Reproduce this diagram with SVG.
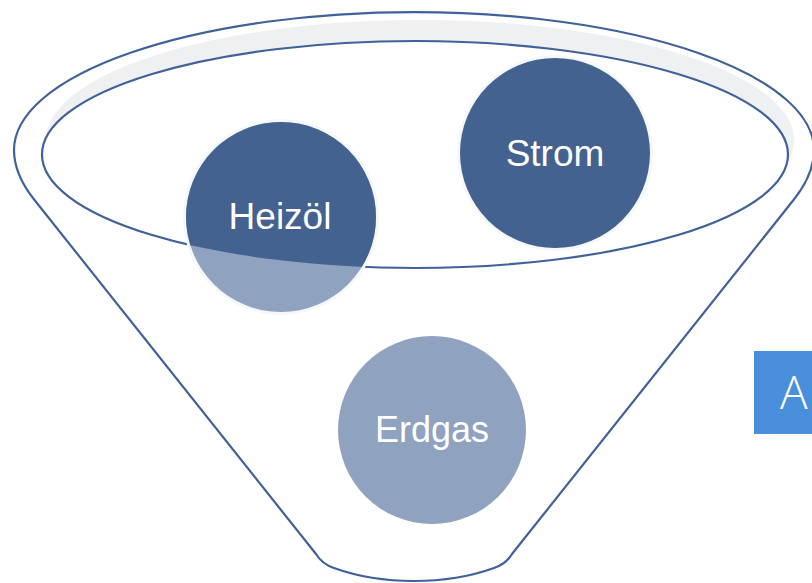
<svg xmlns="http://www.w3.org/2000/svg" width="812" height="583" viewBox="0 0 812 583">
<style>
.line{fill:none;stroke:#41619a;stroke-width:2.2}
.dark{fill:#44628f}
.light{fill:#8fa2c0}
.halo{fill:none;stroke:#f6f7f8;stroke-width:3}
.lbl{font-family:"Liberation Sans",Arial,sans-serif;fill:#ffffff;text-anchor:middle}
</style>
<defs>
<clipPath id="innerClip"><ellipse cx="415" cy="154.5" rx="373" ry="113.5"/></clipPath>
</defs>
<rect width="812" height="583" fill="#ffffff"/>
<g id="funnel">
<ellipse cx="420" cy="140" rx="374" ry="120" fill="#eff0f2"/>
<path class="line" d="M14,150 A400,138 0 0 1 814,150 C814,168 805.5,185 793.5,200 L512,554 Q506,564 494,568 Q458,581 414,581 Q370,581 334,568 Q322,564 316,554 L34.5,200 C22.5,185 14,168 14,150 Z"/>
<ellipse cx="415" cy="154.5" rx="373" ry="113.5" fill="#ffffff"/>
<ellipse class="line" cx="415" cy="154.5" rx="373" ry="113.5"/>
</g>
<g id="heizoel">
<circle class="halo" cx="281" cy="217" r="96.5"/>
<circle class="light" cx="281" cy="217" r="95"/>
<circle class="dark" cx="281" cy="217" r="95" clip-path="url(#innerClip)"/>
<text class="lbl" x="280" y="229" font-size="37">Heizöl</text>
</g>
<g id="strom">
<circle class="halo" cx="555" cy="153" r="96.5"/>
<circle class="dark" cx="555" cy="153" r="95"/>
<text class="lbl" x="555" y="166" font-size="37">Strom</text>
</g>
<g id="erdgas">
<circle class="light" cx="432" cy="430" r="94"/>
<text class="lbl" x="432" y="442" font-size="36">Erdgas</text>
</g>
<g id="boxA">
<rect x="754" y="351" width="100" height="83" fill="#4a8fdb"/>
<text x="780" y="409" font-size="46" font-family="'Open Sans','Liberation Sans',sans-serif" font-weight="300" fill="#ffffff">A</text>
</g>
<g id="connectors"></g>
</svg>
